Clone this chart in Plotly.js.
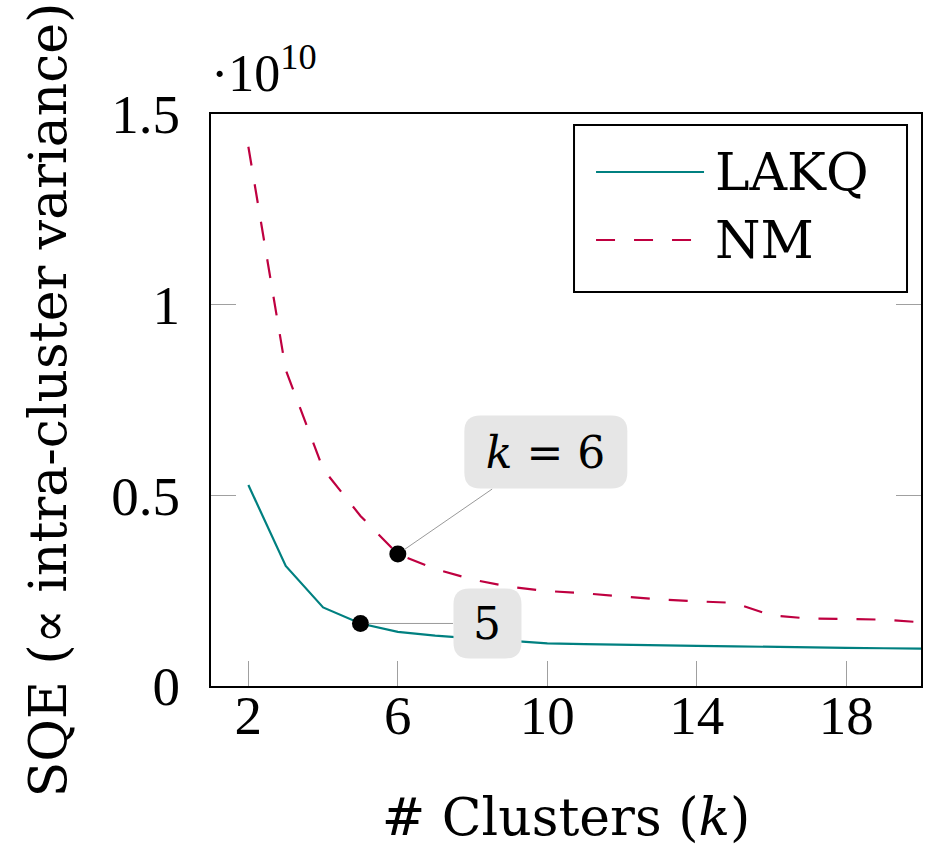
<!DOCTYPE html>
<html>
<head>
<meta charset="utf-8">
<script src="https://cdn.plot.ly/plotly-3.0.1.min.js"></script>
<style>html,body{margin:0;padding:0;background:#fff;}#chart{width:933px;height:863px;}</style>
</head>
<body>
<div id="chart"></div>
<script>
// Data (SQE in units of 1e10)
const clusters = [2,3,4,5,6,7,8,9,10,11,12,13,14,15,16,17,18,19,20];
const lakq = [0.527,0.315,0.206,0.164,0.142,0.132,0.125,0.118,0.112,0.110,0.108,0.106,0.105,0.104,0.102,0.101,0.100,0.099,0.098];
const nm   = [1.414,0.829,0.569,0.446,0.346,0.307,0.279,0.260,0.249,0.243,0.235,0.227,0.222,0.218,0.185,0.177,0.176,0.174,0.167];
const seriesNames = ["LAKQ","NM"];
const kneeLakq = 5;
const kneeNm = 6;
const xTickVals = [2,6,10,14,18];
const yTickVals = [0,0.5,1,1.5];
const yTickText = ["0","0.5","1","1.5"];

const teal = "#008080";
const red = "#bf0040";
const NUMFONT = "Liberation Serif, Times New Roman, serif";
const TXTFONT = "DejaVu Serif, serif";

const yLakqKnee = lakq[clusters.indexOf(kneeLakq)];
const yNmKnee = nm[clusters.indexOf(kneeNm)];

function roundedRect(cx, cy, w, h, r) {
  const x0 = cx - w/2, x1 = cx + w/2, y0 = cy - h/2, y1 = cy + h/2;
  return `M${x0+r},${y0} L${x1-r},${y0} Q${x1},${y0} ${x1},${y0+r} L${x1},${y1-r} Q${x1},${y1} ${x1-r},${y1} L${x0+r},${y1} Q${x0},${y1} ${x0},${y1-r} L${x0},${y0+r} Q${x0},${y0} ${x0+r},${y0} Z`;
}

const traces = [
  {x: clusters, y: lakq, type: "scatter", mode: "lines", name: seriesNames[0],
   line: {color: teal, width: 2.2}, showlegend: false},
  {x: clusters, y: nm, type: "scatter", mode: "lines", name: seriesNames[1],
   line: {color: red, width: 2.2, dash: "19px,19px"}, showlegend: false},
  {x: [kneeLakq, kneeNm], y: [yLakqKnee, yNmKnee], type: "scatter", mode: "markers",
   marker: {color: "black", size: 17}, showlegend: false, hoverinfo: "skip"}
];

// annotation box geometry (pixel offsets from the knee point)
const boxNm = {dx: 148, dy: 102, w: 163, h: 73};
const boxLakq = {dx: 127, dy: 0, w: 68, h: 70};

const layout = {
  width: 933, height: 863,
  margin: {l: 211, r: 12, t: 114, b: 177},
  paper_bgcolor: "#fff", plot_bgcolor: "#fff",
  font: {family: NUMFONT, color: "#000", size: 55},
  xaxis: {
    range: [1, 20], tickvals: xTickVals, ticks: "inside", ticklen: 25, tickwidth: 1,
    tickcolor: "#a0a0a0", showgrid: false, zeroline: false, showline: true,
    linecolor: "#000", linewidth: 2, mirror: true, ticklabelstandoff: -20,
    tickfont: {size: 55, family: NUMFONT},
    title: {text: "# Clusters (<i>k</i>)", font: {size: 52, family: TXTFONT}, standoff: 54}
  },
  yaxis: {
    range: [0, 1.5], tickvals: yTickVals, ticktext: yTickText, ticks: "inside", ticklen: 25,
    tickwidth: 1, tickcolor: "#a0a0a0", showgrid: false, zeroline: false, showline: true,
    linecolor: "#000", linewidth: 2, mirror: "ticks", ticklabelstandoff: 18,
    tickfont: {size: 55, family: NUMFONT},
    title: {text: "SQE (\u221d intra-cluster variance)", font: {size: 52, family: TXTFONT}, standoff: 28}
  },
  shapes: [
    {type: "path", xref: "x", yref: "y", xsizemode: "pixel", ysizemode: "pixel",
     xanchor: kneeNm, yanchor: yNmKnee, layer: "above",
     path: roundedRect(boxNm.dx, boxNm.dy, boxNm.w, boxNm.h, 16),
     fillcolor: "#e6e6e6", line: {width: 0}},
    {type: "path", xref: "x", yref: "y", xsizemode: "pixel", ysizemode: "pixel",
     xanchor: kneeLakq, yanchor: yLakqKnee, layer: "above",
     path: roundedRect(boxLakq.dx, boxLakq.dy, boxLakq.w, boxLakq.h, 16),
     fillcolor: "#e6e6e6", line: {width: 0}},
    // legend
    {type: "rect", xref: "paper", yref: "paper", x0: 0.5113, x1: 0.9803, y0: 0.6888, y1: 0.9808,
     line: {color: "#000", width: 2}, fillcolor: "rgba(255,255,255,1)", layer: "above"},
    {type: "line", xref: "paper", yref: "paper", x0: 0.5423, x1: 0.6944, y0: 0.8986, y1: 0.8986,
     line: {color: teal, width: 2.2}, layer: "above"},
    {type: "line", xref: "paper", yref: "paper", x0: 0.5423, x1: 0.6944, y0: 0.7797, y1: 0.7797,
     line: {color: red, width: 2.2, dash: "19px,19px"}, layer: "above"}
  ],
  annotations: [
    {x: kneeNm, y: yNmKnee, xref: "x", yref: "y", text: "<i>k</i> = 6",
     ax: boxNm.dx, ay: -boxNm.dy, showarrow: true, arrowhead: 0, arrowwidth: 1,
     arrowcolor: "#999", standoff: 8, width: boxNm.w, height: boxNm.h, borderpad: 0,
     font: {size: 44, family: TXTFONT}},
    {x: kneeLakq, y: yLakqKnee, xref: "x", yref: "y", text: "5",
     ax: boxLakq.dx, ay: -boxLakq.dy, showarrow: true, arrowhead: 0, arrowwidth: 1,
     arrowcolor: "#999", standoff: 8, width: boxLakq.w, height: boxLakq.h, borderpad: 0,
     font: {size: 44, family: TXTFONT}},
    {x: 0, y: 1, xref: "paper", yref: "paper", xanchor: "left", yanchor: "bottom",
     text: "\u00b710<sup>10</sup>", showarrow: false, yshift: 10, xshift: -2,
     font: {size: 52, family: NUMFONT}},
    {x: 0.7077, y: 0.8986, xref: "paper", yref: "paper", xanchor: "left", yanchor: "middle",
     text: seriesNames[0], showarrow: false, font: {size: 52, family: TXTFONT}},
    {x: 0.7077, y: 0.7797, xref: "paper", yref: "paper", xanchor: "left", yanchor: "middle",
     text: seriesNames[1], showarrow: false, font: {size: 52, family: TXTFONT}}
  ]
};

Plotly.newPlot("chart", traces, layout, {displayModeBar: false, staticPlot: true});
</script>
</body>
</html>
